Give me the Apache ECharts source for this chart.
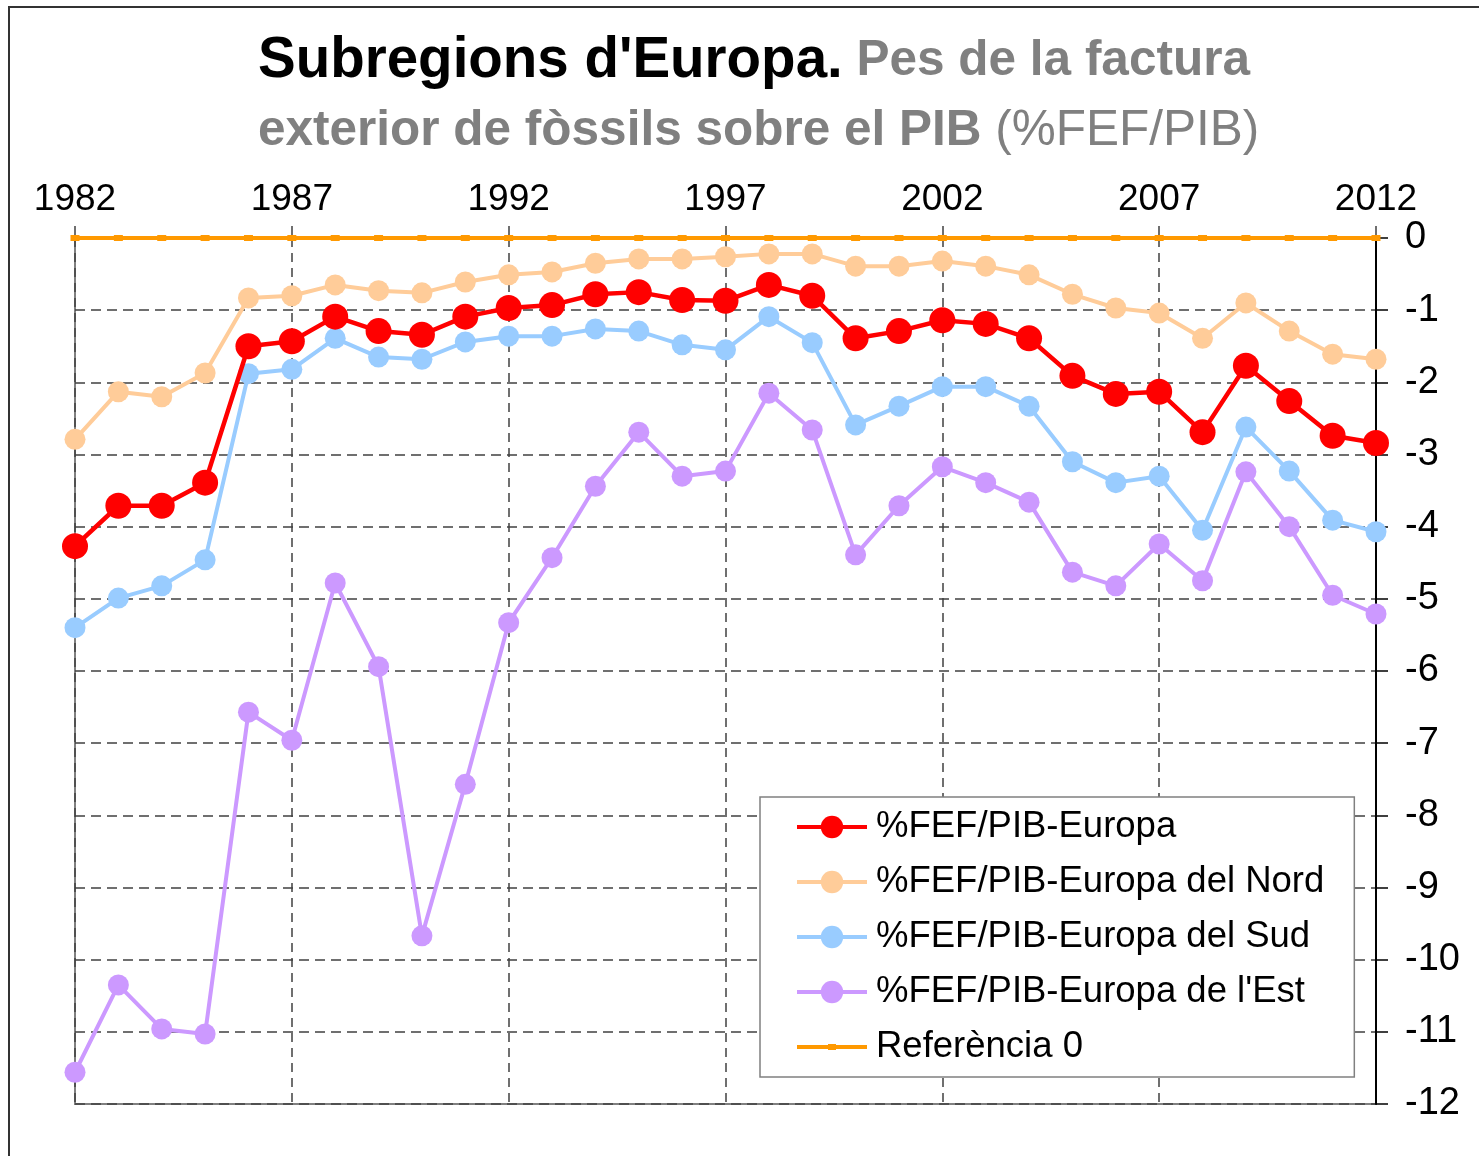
<!DOCTYPE html>
<html>
<head>
<meta charset="utf-8">
<script src="https://cdn.jsdelivr.net/npm/echarts@6/dist/echarts.min.js"></script>
<style>
  html, body { margin: 0; padding: 0; background: #fff; }
  /* marc exterior del gràfic (només vores superior i esquerra visibles) */
  #frame {
    position: absolute; left: 8px; top: 6px; width: 1600px; height: 1300px;
    border-top: 2px solid #333; border-left: 2px solid #333;
  }
  #chart { position: absolute; left: 0; top: 0; width: 1479px; height: 1156px; }
</style>
</head>
<body>
<div id="frame"></div>
<div id="chart"></div>
<script>
// anys (eix de categories)
var years = ['1982','1983','1984','1985','1986','1987','1988','1989','1990','1991',
  '1992','1993','1994','1995','1996','1997','1998','1999','2000','2001',
  '2002','2003','2004','2005','2006','2007','2008','2009','2010','2011','2012'];

// %FEF/PIB per subregió
var europa = [-4.27,-3.71,-3.71,-3.39,-1.50,-1.43,-1.09,-1.29,-1.34,-1.09,
  -0.97,-0.93,-0.78,-0.75,-0.86,-0.87,-0.65,-0.80,-1.39,-1.29,
  -1.14,-1.19,-1.39,-1.91,-2.16,-2.13,-2.69,-1.77,-2.26,-2.74,-2.84];
var nord = [-2.79,-2.13,-2.20,-1.87,-0.83,-0.80,-0.65,-0.73,-0.76,-0.61,
  -0.51,-0.47,-0.35,-0.29,-0.29,-0.26,-0.22,-0.22,-0.39,-0.39,
  -0.32,-0.39,-0.51,-0.78,-0.97,-1.04,-1.39,-0.90,-1.29,-1.61,-1.68];
var sud = [-5.40,-4.99,-4.82,-4.46,-1.88,-1.82,-1.39,-1.65,-1.68,-1.44,
  -1.36,-1.36,-1.26,-1.29,-1.48,-1.55,-1.09,-1.45,-2.59,-2.33,
  -2.06,-2.06,-2.33,-3.10,-3.39,-3.30,-4.05,-2.62,-3.23,-3.91,-4.07];
var est = [-11.56,-10.35,-10.96,-11.03,-6.57,-6.96,-4.78,-5.94,-9.67,-7.57,
  -5.33,-4.43,-3.44,-2.69,-3.30,-3.23,-2.15,-2.66,-4.39,-3.71,
  -3.17,-3.39,-3.66,-4.63,-4.82,-4.24,-4.75,-3.24,-4.00,-4.95,-5.21];
var referencia = [0,0,0,0,0,0,0,0,0,0,0,0,0,0,0,0,0,0,0,0,0,0,0,0,0,0,0,0,0,0,0];

var FONT = '"Liberation Sans", Arial, sans-serif';

// icona de llegenda per a la referència: línia amb un quadrat petit al mig
var refIcon = 'path://M0,0L0.01,0L0.01,0.01Z M0,24L0.01,24L0.01,24.01Z ' +
  'M0,10L70,10L70,14L0,14Z M31,9L39,9L39,15L31,15Z';

function lineSerie(name, data, color, size, width, z) {
  return {
    name: name,
    type: 'line',
    data: data,
    z: z,
    symbol: 'circle',
    symbolSize: size,
    showSymbol: true,
    lineStyle: { color: color, width: width },
    itemStyle: { color: color, borderWidth: 0 },
    emphasis: { disabled: true },
    animation: false
  };
}

var chart = echarts.init(document.getElementById('chart'), null, { renderer: 'canvas' });

var option = {
  textStyle: { fontFamily: FONT },
  title: {
    text: "{a|Subregions d'Europa.} {b|Pes de la factura}\n{b|exterior de fòssils sobre el PIB} {c|(%FEF/PIB)}",
    left: 258,
    top: 26,
    padding: 0,
    textAlign: 'left',
    textStyle: {
      fontFamily: FONT,
      fontSize: 49.5,
      lineHeight: 70,
      rich: {
        a: { fontFamily: FONT, fontSize: 56.5, fontWeight: 'bold', color: '#000', lineHeight: 70 },
        b: { fontFamily: FONT, fontSize: 49.5, fontWeight: 'bold', color: '#808080', lineHeight: 70 },
        c: { fontFamily: FONT, fontSize: 49.5, fontWeight: 'normal', color: '#808080', lineHeight: 70 }
      }
    }
  },
  legend: {
    orient: 'vertical',
    left: 760,
    top: 797,
    padding: [10, 30, 10, 35],
    backgroundColor: '#fff',
    borderColor: '#808080',
    borderWidth: 1.5,
    itemWidth: 70,
    itemHeight: 28,
    itemGap: 15,
    lineStyle: { width: 4 },
    textStyle: { fontFamily: FONT, fontSize: 36.5, color: '#000', lineHeight: 40, padding: [0, 0, 0, 4] },
    data: [
      { name: '%FEF/PIB-Europa' },
      { name: '%FEF/PIB-Europa del Nord' },
      { name: '%FEF/PIB-Europa del Sud' },
      { name: "%FEF/PIB-Europa de l'Est" },
      { name: 'Referència 0', icon: refIcon }
    ]
  },
  grid: {
    left: 75, right: 103, top: 238, bottom: 52,
    show: true,
    borderColor: '#808080',
    borderWidth: 2,
    backgroundColor: 'transparent'
  },
  xAxis: {
    type: 'category',
    position: 'top',
    data: years,
    boundaryGap: false,
    axisLine: { lineStyle: { color: '#808080', width: 2 } },
    axisTick: { interval: 4, length: 12, lineStyle: { color: '#404040', width: 1.5 } },
    axisLabel: { interval: 4, margin: 20, fontSize: 37, color: '#000', fontFamily: FONT },
    splitLine: {
      show: true, interval: 4,
      lineStyle: { color: '#404040', width: 1.5, type: [9, 6] }
    }
  },
  yAxis: {
    type: 'value',
    position: 'right',
    min: -12,
    max: 0,
    interval: 1,
    axisLine: { show: true, lineStyle: { color: '#000', width: 2 } },
    axisTick: { show: true, length: 12, lineStyle: { color: '#000', width: 1.5 } },
    axisLabel: { margin: 29, fontSize: 38, color: '#000', fontFamily: FONT },
    splitLine: { lineStyle: { color: '#404040', width: 1.5, type: [10, 6] } }
  },
  series: [
    lineSerie('%FEF/PIB-Europa', europa, '#FF0000', 26, 4.5, 6),
    lineSerie('%FEF/PIB-Europa del Nord', nord, '#FFCC99', 21, 4, 4),
    lineSerie('%FEF/PIB-Europa del Sud', sud, '#99CCFF', 21, 4, 4),
    lineSerie("%FEF/PIB-Europa de l'Est", est, '#CC99FF', 21, 4, 3),
    {
      name: 'Referència 0',
      type: 'line',
      data: referencia,
      z: 7,
      symbol: 'rect',
      symbolSize: [9, 6],
      lineStyle: { color: '#FF9900', width: 4 },
      itemStyle: { color: '#FF9900' },
      emphasis: { disabled: true },
      animation: false
    }
  ]
};

chart.setOption(option);
</script>
</body>
</html>
